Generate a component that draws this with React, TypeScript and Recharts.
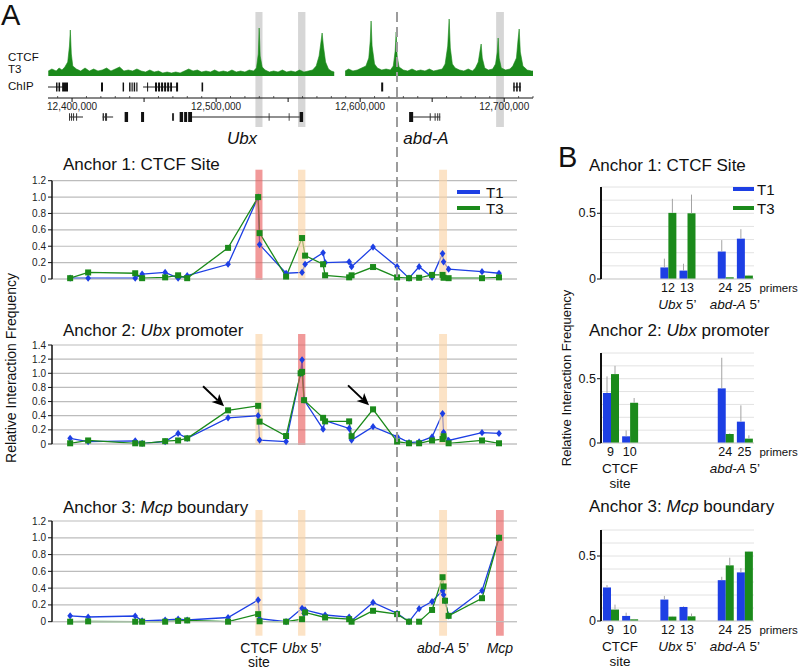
import React from "react"
import {
  ComposedChart,
  Area,
  LineChart,
  Line,
  BarChart,
  Bar,
  XAxis,
  YAxis,
  CartesianGrid,
  ReferenceArea,
  ReferenceDot,
  ErrorBar,
} from "recharts"

const FONT = '"Liberation Sans", Arial, Helvetica, sans-serif'
const BLUE = "#1d3fe4"
const GREEN = "#1b8a1b"
const RED_BAND = "#e85a5a"
const SITE_BAND = "#fad2a3"

// ---------- CTCF ChIP track: [kb, signal] ----------
const ctcfSignal: [number, number | null][] = [
  [12383.5, 5], [12386, 7], [12389, 5], [12391, 8], [12393, 6], [12395, 9], [12397, 14],
  [12398.2, 30], [12398.8, 46], [12399.5, 22], [12400.5, 10], [12403, 7], [12406, 5],
  [12409, 8], [12412, 5], [12415, 7], [12418, 5], [12421, 6], [12424, 8], [12427, 5],
  [12430, 7], [12433, 9], [12436, 5], [12439, 6], [12442, 5], [12445, 7], [12448, 5],
  [12451, 4], [12454, 6], [12457, 4], [12460, 5], [12463, 3], [12466, 4], [12469, 3],
  [12472, 4], [12475, 3], [12478, 5], [12481, 7], [12484, 5], [12487, 6], [12490, 4],
  [12493, 5], [12496, 4], [12499, 6], [12502, 4], [12505, 5], [12508, 4], [12511, 6],
  [12514, 4], [12517, 5], [12520, 4], [12523, 6], [12526, 5], [12528, 8], [12529.3, 22],
  [12529.9, 48], [12530.6, 20], [12532, 9], [12534, 6], [12537, 4], [12540, 5], [12543, 4],
  [12546, 6], [12549, 4], [12552, 5], [12555, 4], [12558, 6], [12561, 4], [12564, 5],
  [12567, 6], [12569.5, 10], [12571.5, 20], [12572.8, 34], [12573.6, 43], [12574.5, 30],
  [12576, 14], [12578, 7], [12580, 5], [12582, 4], [12585.5, null], [12589.6, 5],
  [12592, 7], [12595, 5], [12598, 6], [12601, 8], [12604, 10], [12606, 18], [12607, 35],
  [12607.6, 55], [12608.3, 30], [12610, 12], [12612, 8], [12615, 6], [12618, 7], [12621, 6],
  [12623, 10], [12624.3, 25], [12625, 44], [12625.7, 20], [12627, 9], [12630, 6], [12633, 5],
  [12636, 7], [12639, 5], [12642, 6], [12645, 5], [12648, 7], [12651, 5], [12654, 6],
  [12657, 7], [12659, 12], [12660.8, 30], [12661.8, 57], [12662.6, 28], [12664, 12],
  [12666, 8], [12669, 6], [12672, 5], [12675, 7], [12678, 5], [12680, 8], [12682, 14],
  [12683.2, 25], [12684, 32], [12684.8, 18], [12686.5, 8], [12689, 6], [12692, 7],
  [12694, 12], [12695.2, 24], [12695.8, 38], [12696.5, 18], [12698, 8], [12701, 6],
  [12704, 7], [12706, 10], [12708.5, 18], [12709.6, 36], [12710.4, 47], [12711.2, 24],
  [12713, 10], [12716, 6], [12719, 5], [12720, 5],
]

// gene models (kb)
const row1Exons = [
  [12388.9, 12389.9], [12390.6, 12391.7], [12393.1, 12397.2], [12420.1, 12421.5],
  [12435.1, 12436.1], [12439.6, 12440.6], [12441.3, 12442.1], [12442.8, 12443.8],
  [12444.6, 12445.4], [12452.1, 12452.8], [12457.6, 12459], [12459.7, 12461.1],
  [12461.8, 12463.2], [12463.9, 12465.3], [12466, 12467.4], [12468.1, 12469.4],
  [12472.2, 12473.6], [12489.9, 12491], [12614.6, 12616], [12706.3, 12707.3],
  [12708.3, 12709.4], [12710.4, 12711.5],
]
const row1Introns = [[12383.3, 12397.2], [12449.3, 12472.9], [12706.3, 12711.5]]
const row2Thin = [
  [12397.9, 12398.6], [12399.3, 12400], [12400.7, 12401.4], [12402.8, 12403.5],
  [12421.2, 12422.2], [12422.9, 12424.3], [12469.4, 12470.8], [12536.5, 12537.1],
  [12550.4, 12551], [12648.3, 12649], [12651.7, 12652.4], [12653.5, 12654.2],
  [12654.9, 12655.6],
]
const row2Thick = [
  [12436.5, 12438.9], [12447.9, 12450], [12474.7, 12477.1], [12477.8, 12479.9],
  [12480.6, 12483.3], [12558, 12560.4], [12634, 12636.8],
]
const row2Introns = [[12397.9, 12407.6], [12421.2, 12428.5], [12483.3, 12558], [12636.8, 12655.6]]

// ---------- highlighted regions (kb) ----------
const ctcfSite = [12527.3, 12532.2]
const ubx5 = [12556.9, 12562.0]
const abdA5 = [12654.9, 12660.4]
const mcp = [12694.4, 12699.8]

// ---------- 3C primers along the locus (kb) ----------
const primerKb = [
  12398.6, 12411.1, 12443.8, 12448.6, 12464.6, 12473.6, 12479.9, 12508.3, 12529.2, 12530.2,
  12548.6, 12558.7, 12559.7, 12561.1, 12561.8, 12574.3, 12575.7, 12592.4, 12594.1, 12609.0,
  12625.7, 12634.0, 12641.0, 12650.0, 12657.3, 12658.0, 12659.0, 12661.5, 12684.7, 12696.5,
]
const lineAxisTicks = [12400, 12450, 12500, 12550, 12600, 12650, 12700]
const lineDomain = [12386, 12709]

const a1T1 = [0.01, 0.01, 0.01, 0.06, 0.08, 0.01, 0.04, 0.18, 1.0, 0.42, 0.07, null, 0.08, null, 0.18, 0.32, 0.2, 0.21, 0.15, 0.39, 0.15, 0.01, 0.15, 0.02, 0.31, 0.21, null, 0.12, 0.09, 0.07]
const a1T3 = [0.01, 0.08, 0.07, 0.01, 0.02, 0.045, 0.01, 0.38, 1.0, 0.56, 0.03, null, 0.5, null, 0.285, 0.18, 0.045, 0.02, 0.045, 0.146, 0.02, 0.01, 0.015, 0.05, 0.05, 0.015, null, 0.01, 0.01, 0.02]
const a2T1 = [0.08, 0.035, 0.045, 0.01, 0.035, 0.15, 0.08, 0.37, 0.4, 0.055, 0.035, 1.0, 1.19, 0.62, null, 0.21, 0.33, 0.22, 0.055, 0.245, 0.105, 0.02, 0.03, 0.1, 0.43, 0.165, null, 0.05, 0.16, 0.15]
const a2T3 = [0.01, 0.05, 0.01, 0.005, 0.04, 0.05, 0.08, 0.476, 0.54, 0.316, 0.113, 1.0, 1.02, 0.62, null, 0.37, 0.32, 0.32, 0.11, 0.49, 0.035, 0.01, 0.01, 0.05, 0.07, 0.11, null, 0.01, 0.05, 0.01]
const a3T1 = [0.07, 0.056, 0.068, 0.01, 0.02, 0.03, 0.02, 0.05, 0.26, 0.035, 0.0, null, 0.16, 0.1, 0.14, null, 0.08, 0.055, 0.01, 0.23, 0.1, 0.0, 0.155, 0.24, 0.37, 0.32, 0.25, 0.07, 0.37, 1.0]
const a3T3 = [0.0, 0.004, 0.0, 0.0, 0.0, 0.01, 0.015, 0.0, 0.09, 0.005, 0.0, null, 0.03, null, 0.11, null, 0.05, 0.03, 0.0, 0.13, 0.09, 0.0, 0.0, 0.14, 0.53, 0.42, 0.25, 0.07, 0.28, 1.0]
const a2Arrows = [7, 19]

// ---------- panel B ----------
const primerCats = ["9", "10", "gap-a", "12", "13", "gap-b", "24", "25"]
const barYTicks = [0, 0.1, 0.2, 0.3, 0.4, 0.5, 0.6, 0.7]
const b1T1 = [0, 0, 0, 0.088, 0.064, 0, 0.209, 0.307]
const b1T1Err = [0, 0, 0, 0.067, 0.052, 0, 0.087, 0.072]
const b1T3 = [0, 0, 0, 0.503, 0.5, 0, 0.013, 0.026]
const b1T3Err = [0, 0, 0, 0.107, 0.142, 0, 0, 0.005]
const b2T1 = [0.389, 0.052, 0, 0, 0, 0, 0.425, 0.166]
const b2T1Err = [0.129, 0.046, 0, 0, 0, 0, 0.238, 0.127]
const b2T3 = [0.536, 0.313, 0, 0, 0, 0, 0.07, 0.034]
const b2T3Err = [0.064, 0.037, 0, 0, 0, 0, 0.005, 0.026]
const b3T1 = [0.258, 0.039, 0, 0.165, 0.108, 0, 0.314, 0.374]
const b3T1Err = [0.018, 0.025, 0, 0.028, 0.005, 0, 0.026, 0.033]
const b3T3 = [0.088, 0.013, 0, 0.034, 0.036, 0, 0.428, 0.534]
const b3T3Err = [0.038, 0.003, 0, 0.005, 0.021, 0, 0.059, 0.005]

// ---------- small helpers ----------
function Txt({ x, y, size, children, center, italic }: any) {
  return (
    <div
      style={{
        position: "absolute",
        left: x,
        top: y - size / 2,
        fontSize: size,
        lineHeight: 1,
        whiteSpace: "nowrap",
        fontStyle: italic ? "italic" : "normal",
        transform: center ? "translateX(-50%)" : undefined,
      }}
    >
      {children}
    </div>
  )
}

function Swatch({ x, y, w, color }: any) {
  return <div style={{ position: "absolute", left: x, top: y, width: w, height: 4, background: color }} />
}

function VLabel({ x, y, size, children }: any) {
  return (
    <div
      style={{
        position: "absolute",
        left: x,
        top: y,
        fontSize: size,
        lineHeight: 1,
        whiteSpace: "nowrap",
        transform: "translate(-50%,-50%) rotate(-90deg)",
      }}
    >
      {children}
    </div>
  )
}

const DiamondDot = (p: any) => {
  if (p.cx == null || p.cy == null || p.value == null) return <g key={p.key} />
  const { cx, cy } = p
  return (
    <path
      key={p.key}
      d={`M${cx},${cy - 3.6}L${cx + 2.8},${cy}L${cx},${cy + 3.6}L${cx - 2.8},${cy}Z`}
      fill={BLUE}
    />
  )
}

const SquareDot = (p: any) => {
  if (p.cx == null || p.cy == null || p.value == null) return <g key={p.key} />
  return <rect key={p.key} x={p.cx - 3} y={p.cy - 3} width={6} height={6} fill={GREEN} />
}

const ArrowMark = (p: any) => {
  const { cx, cy } = p
  if (cx == null || cy == null) return <g />
  const tx = cx - 4
  const ty = cy - 4
  const sx = cx - 25
  const sy = cy - 24
  const dx = tx - sx
  const dy = ty - sy
  const len = Math.hypot(dx, dy)
  const ux = dx / len
  const uy = dy / len
  const bx = tx - ux * 12
  const by = ty - uy * 12
  return (
    <g>
      <line x1={sx} y1={sy} x2={bx + ux * 3} y2={by + uy * 3} stroke="#000" strokeWidth={2} />
      <path
        d={`M${tx},${ty}L${bx - uy * 5.5},${by + ux * 5.5}L${bx + ux * 3},${by + uy * 3}L${bx + uy * 5.5},${by - ux * 5.5}Z`}
        fill="#000"
      />
    </g>
  )
}

const BandLabel = (props: any) => {
  const { viewBox, lines } = props
  if (!viewBox) return null
  const cx = viewBox.x + viewBox.width / 2
  const base = viewBox.y + viewBox.height
  return (
    <g>
      {lines.map((l: any, i: number) => (
        <text key={i} x={cx} y={base + 17 + i * 14.5} textAnchor="middle" fontSize={14} fontFamily={FONT} fill="#111">
          {l}
        </text>
      ))}
    </g>
  )
}

const GenomeTick = (props: any) => {
  const { x, y, payload } = props
  const v = payload.value
  const major = v % 50 === 0
  return (
    <g>
      {major ? (
        <line x1={x} x2={x} y1={y} y2={y + 4} stroke="#111" />
      ) : (
        <line x1={x} x2={x} y1={y - 2} y2={y} stroke="#333" strokeWidth={0.8} />
      )}
      {v % 100 === 0 && (
        <text x={x} y={y + 12} textAnchor="middle" fontSize={10} fontFamily={FONT} fill="#222">
          {(v * 1000).toLocaleString("en-US")}
        </text>
      )}
    </g>
  )
}

// ---------- panel A: ChIP track ----------
function ChipTrack() {
  const data = ctcfSignal.map(([pos, sig]) => ({ pos, sig }))
  const ticks: number[] = []
  for (let t = 12390; t <= 12720; t += 10) ticks.push(t)
  const exon = (r: number[], c: number, h: number, key: string, fill = "#111") => (
    <ReferenceArea key={key} x1={r[0]} x2={r[1]} y1={c - h} y2={c + h} fill={fill} fillOpacity={1} ifOverflow="visible" zIndex={150} />
  )
  return (
    <div style={{ position: "absolute", left: 0, top: 0 }}>
      <ComposedChart width={540} height={145} data={data} margin={{ top: 16, right: 7, bottom: 27, left: 48 }}>
        <XAxis
          type="number"
          dataKey="pos"
          domain={[12383.3, 12720]}
          allowDataOverflow
          ticks={ticks}
          interval={0}
          tick={<GenomeTick />}
          tickLine={false}
          tickSize={0}
          tickMargin={0}
          height={20}
          axisLine={{ stroke: "#111" }}
        />
        <YAxis hide domain={[-22, 60]} allowDataOverflow />
        {[ctcfSite, ubx5, mcp].map((r, i) => (
          <ReferenceArea key={`g${i}`} x1={r[0]} x2={r[1]} y1={-51} y2={64} fill="#d6d6d6" fillOpacity={1} ifOverflow="visible" zIndex={50} />
        ))}
        <Area
          type="linear"
          dataKey="sig"
          stroke={GREEN}
          strokeWidth={0.6}
          fill={GREEN}
          fillOpacity={1}
          baseValue={0}
          dot={false}
          activeDot={false}
          isAnimationActive={false}
        />
        {row1Introns.map((r, i) => exon(r, -11, 0.5, `r1i${i}`, "#222"))}
        {row1Exons.map((r, i) => exon(r, -11, 4.5, `r1e${i}`))}
        {row2Introns.map((r, i) => exon(r, -41, 0.5, `r2i${i}`, "#222"))}
        {row2Thin.map((r, i) => exon(r, -41, 3.8, `r2t${i}`, "#333"))}
        {row2Thick.map((r, i) => exon(r, -41, 5, `r2k${i}`))}
      </ComposedChart>
    </div>
  )
}

// ---------- panel A: interaction profiles ----------
type Band = { region: number[]; anchor: boolean; lines?: React.ReactNode[] }

function AnchorProfile(props: any) {
  const { top, height, marginTop, marginBottom, yMax, yTicks, t1, t3, bands, below, arrows = [] } = props
  const data = primerKb.map((pos, i) => ({ pos, t1: t1[i], t3: t3[i] }))
  const plotH = height - marginTop - marginBottom - 6
  const perPx = yMax / plotH
  const yTop = yMax + 11 * perPx
  const yBottom = -below * perPx
  return (
    <div style={{ position: "absolute", left: 0, top }}>
      <LineChart width={540} height={height} data={data} margin={{ top: marginTop, right: 23, bottom: marginBottom, left: 0 }}>
        <CartesianGrid vertical={false} stroke="#bcbcbc" strokeWidth={1.2} />
        <XAxis
          type="number"
          dataKey="pos"
          domain={lineDomain}
          allowDataOverflow
          ticks={lineAxisTicks}
          interval={0}
          tick={false}
          height={6}
          tickSize={3}
          axisLine={{ stroke: "#c6c6c6" }}
          tickLine={{ stroke: "#c6c6c6" }}
        />
        <YAxis
          type="number"
          domain={[0, yMax]}
          ticks={yTicks}
          interval={0}
          width={52}
          tickSize={4}
          tick={{ fontSize: 10, fill: "#222", fontFamily: FONT }}
          tickFormatter={(v: number) => (v === 0 ? "0" : v.toFixed(1))}
          axisLine={{ stroke: "#111", strokeWidth: 1.5 }}
          tickLine={{ stroke: "#111" }}
        />
        <Line dataKey="t1" stroke={BLUE} strokeWidth={1.3} dot={DiamondDot} activeDot={false} connectNulls isAnimationActive={false} />
        <Line dataKey="t3" stroke={GREEN} strokeWidth={1.3} dot={SquareDot} activeDot={false} connectNulls isAnimationActive={false} />
        {bands.map((b: Band, i: number) => (
          <ReferenceArea
            key={`b${i}`}
            x1={b.region[0]}
            x2={b.region[1]}
            y1={yBottom}
            y2={yTop}
            fill={b.anchor ? RED_BAND : SITE_BAND}
            fillOpacity={0.62}
            ifOverflow="visible"
            zIndex={450}
            label={b.lines ? <BandLabel lines={b.lines} /> : undefined}
          />
        ))}
        {arrows.map((i: number) => (
          <ReferenceDot key={`a${i}`} x={primerKb[i]} y={t3[i]} r={0} ifOverflow="visible" shape={ArrowMark} zIndex={600} />
        ))}
      </LineChart>
    </div>
  )
}

// ---------- panel B ----------
const PrimerTick = (props: any) => {
  const { x, y, payload, shown, groups } = props
  const cat = payload.value as string
  const half = 9.6
  return (
    <g fontFamily={FONT} fill="#111">
      {shown.includes(cat) && (
        <text x={x} y={y + 13} textAnchor="middle" fontSize={12.5}>
          {cat}
        </text>
      )}
      {cat === "25" && (
        <text x={x + 15} y={y + 13} fontSize={11.5}>
          primers
        </text>
      )}
      {cat === "10" && groups.includes("ctcf") && (
        <>
          <text x={x - half} y={y + 30} textAnchor="middle" fontSize={13.5}>
            CTCF
          </text>
          <text x={x - half} y={y + 45} textAnchor="middle" fontSize={13.5}>
            site
          </text>
        </>
      )}
      {cat === "13" && groups.includes("ubx") && (
        <text x={x - half} y={y + 30} textAnchor="middle" fontSize={13.5}>
          <tspan fontStyle="italic">Ubx</tspan> 5’
        </text>
      )}
      {cat === "25" && groups.includes("abd") && (
        <text x={x - half} y={y + 30} textAnchor="middle" fontSize={13.5}>
          <tspan fontStyle="italic">abd-A</tspan> 5’
        </text>
      )}
    </g>
  )
}

const BarYTick = (props: any) => {
  const { x, y, payload } = props
  const v = payload.value
  if (v !== 0 && v !== 0.5) return <g />
  return (
    <g>
      <line x1={x - 4} x2={x} y1={y} y2={y} stroke="#111" />
      <text x={x - 5} y={y + 4} textAnchor="end" fontSize={12.5} fontFamily={FONT} fill="#111">
        {v === 0 ? "0" : "0.5"}
      </text>
    </g>
  )
}

function PrimerBars(props: any) {
  const { top, height, marginBottom, t1, t1Err, t3, t3Err, shown, groups } = props
  const data = primerCats.map((cat, i) => ({
    cat,
    t1: t1[i],
    t3: t3[i],
    t1e: [0, t1Err[i]],
    t3e: [0, t3Err[i]],
  }))
  return (
    <div style={{ position: "absolute", left: 540, top }}>
      <BarChart
        width={260}
        height={height}
        data={data}
        margin={{ top: 17, right: 46, bottom: marginBottom, left: 0 }}
        barCategoryGap={2}
        barGap={0}
      >
        <CartesianGrid vertical={false} stroke="#e2e2e2" />
        <XAxis
          dataKey="cat"
          interval={0}
          height={30}
          tickLine={false}
          tickSize={0}
          tickMargin={0}
          axisLine={{ stroke: "#cfcfcf" }}
          tick={<PrimerTick shown={shown} groups={groups} />}
        />
        <YAxis
          type="number"
          domain={[0, 0.7]}
          ticks={barYTicks}
          interval={0}
          width={61}
          tickLine={false}
          tickSize={0}
          tickMargin={0}
          axisLine={{ stroke: "#111", strokeWidth: 2 }}
          tick={<BarYTick />}
        />
        <Bar dataKey="t1" fill={BLUE} isAnimationActive={false}>
          <ErrorBar dataKey="t1e" width={0} stroke="#a3a3a3" strokeWidth={1} direction="y" />
        </Bar>
        <Bar dataKey="t3" fill={GREEN} isAnimationActive={false}>
          <ErrorBar dataKey="t3e" width={0} stroke="#a3a3a3" strokeWidth={1} direction="y" />
        </Bar>
      </BarChart>
    </div>
  )
}

export default function App() {
  const it = (s: string) => <tspan fontStyle="italic">{s}</tspan>
  const a1Bands: Band[] = [
    { region: ctcfSite, anchor: true },
    { region: ubx5, anchor: false },
    { region: abdA5, anchor: false },
  ]
  const a2Bands: Band[] = [
    { region: ctcfSite, anchor: false },
    { region: ubx5, anchor: true },
    { region: abdA5, anchor: false },
  ]
  const a3Bands: Band[] = [
    { region: ctcfSite, anchor: false, lines: ["CTCF", "site"] },
    { region: ubx5, anchor: false, lines: [<>{it("Ubx")} 5’</>] },
    { region: abdA5, anchor: false, lines: [<>{it("abd-A")} 5’</>] },
    { region: mcp, anchor: true, lines: [it("Mcp")] },
  ]
  return (
    <div
      style={{
        position: "absolute",
        left: 0,
        top: 0,
        width: 800,
        height: 671,
        overflow: "hidden",
        background: "#fff",
        fontFamily: FONT,
        color: "#111",
      }}
    >
      <ChipTrack />
      <AnchorProfile
        top={150}
        height={145}
        marginTop={30.7}
        marginBottom={10}
        yMax={1.2}
        yTicks={[0, 0.2, 0.4, 0.6, 0.8, 1.0, 1.2]}
        t1={a1T1}
        t3={a1T3}
        bands={a1Bands}
        below={1}
      />
      <AnchorProfile
        top={300}
        height={155}
        marginTop={45}
        marginBottom={5}
        yMax={1.4}
        yTicks={[0, 0.2, 0.4, 0.6, 0.8, 1.0, 1.2, 1.4]}
        t1={a2T1}
        t3={a2T3}
        bands={a2Bands}
        below={1}
        arrows={a2Arrows}
      />
      <AnchorProfile
        top={460}
        height={211}
        marginTop={61}
        marginBottom={43.3}
        yMax={1.2}
        yTicks={[0, 0.2, 0.4, 0.6, 0.8, 1.0, 1.2]}
        t1={a3T1}
        t3={a3T3}
        bands={a3Bands}
        below={14}
      />

      <PrimerBars top={170} height={145} marginBottom={6} t1={b1T1} t1Err={b1T1Err} t3={b1T3} t3Err={b1T3Err} shown={["12", "13", "24", "25"]} groups={["ubx", "abd"]} />
      <PrimerBars top={336} height={160} marginBottom={23} t1={b2T1} t1Err={b2T1Err} t3={b2T3} t3Err={b2T3Err} shown={["9", "10", "24", "25"]} groups={["ctcf", "abd"]} />
      <PrimerBars top={513} height={158} marginBottom={20} t1={b3T1} t1Err={b3T1Err} t3={b3T3} t3Err={b3T3Err} shown={["9", "10", "12", "13", "24", "25"]} groups={["ctcf", "ubx", "abd"]} />

      {/* dashed divider through panel A */}
      <svg style={{ position: "absolute", left: 395, top: 12 }} width={4} height={612}>
        <line x1={2} x2={2} y1={0} y2={612} stroke="#9c9c9c" strokeWidth={2} strokeDasharray="10 5" />
      </svg>

      <Txt x={1} y={15} size={29}>A</Txt>
      <Txt x={8} y={58} size={11.5}>CTCF</Txt>
      <Txt x={8} y={69.5} size={11.5}>T3</Txt>
      <Txt x={8} y={87} size={11.5}>ChIP</Txt>
      <Txt x={242} y={138} size={17} center italic>Ubx</Txt>
      <Txt x={426} y={138} size={17} center italic>abd-A</Txt>

      <Txt x={63} y={164} size={17}>Anchor 1: CTCF Site</Txt>
      <Txt x={63} y={330} size={17}>Anchor 2: <i>Ubx</i> promoter</Txt>
      <Txt x={63} y={507} size={17}>Anchor 3: <i>Mcp</i> boundary</Txt>
      <Swatch x={457} y={190} w={23} color={BLUE} />
      <Txt x={486} y={192} size={15}>T1</Txt>
      <Swatch x={457} y={206} w={23} color={GREEN} />
      <Txt x={486} y={208} size={15}>T3</Txt>
      <VLabel x={11} y={368} size={14}>Relative Interaction Frequency</VLabel>

      <Txt x={558} y={157} size={29}>B</Txt>
      <Txt x={589} y={165} size={17}>Anchor 1: CTCF Site</Txt>
      <Txt x={589} y={330} size={17}>Anchor 2: <i>Ubx</i> promoter</Txt>
      <Txt x={589} y={506} size={17}>Anchor 3: <i>Mcp</i> boundary</Txt>
      <Swatch x={733} y={187} w={21} color={BLUE} />
      <Txt x={757} y={189} size={15}>T1</Txt>
      <Swatch x={733} y={206} w={21} color={GREEN} />
      <Txt x={757} y={208} size={15}>T3</Txt>
      <VLabel x={566} y={378} size={13}>Relative Interaction Frequency</VLabel>
    </div>
  )
}
